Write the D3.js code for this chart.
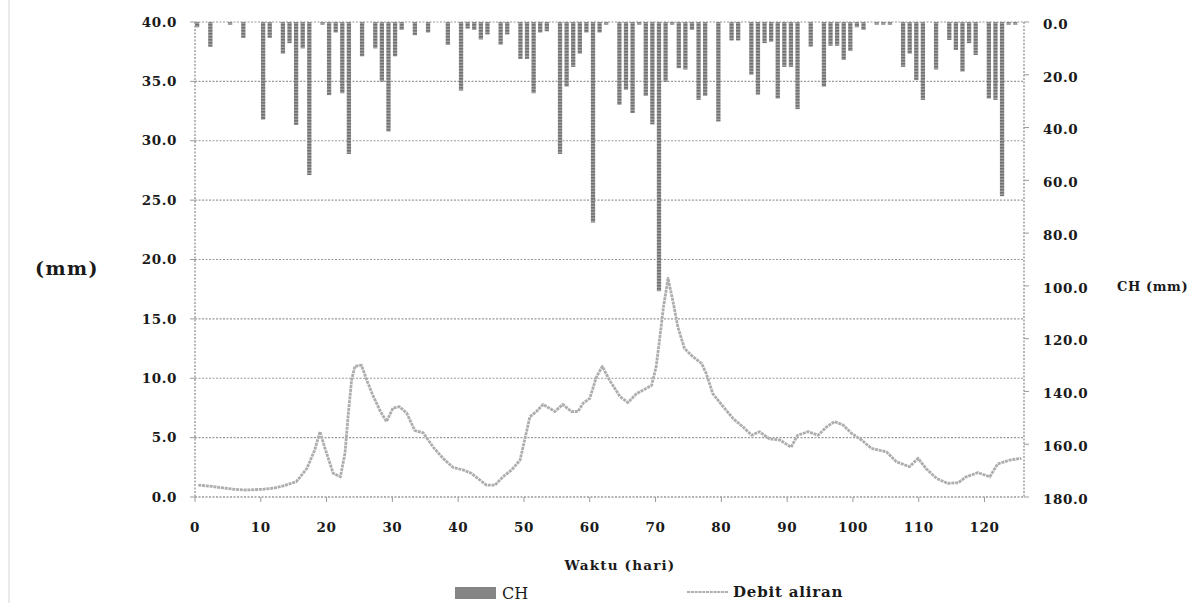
<!DOCTYPE html>
<html>
<head>
<meta charset="utf-8">
<script src="https://cdn.jsdelivr.net/npm/d3@7"></script>
<style>
  body { margin: 0; background: #fff; }
  svg text { font-family: "DejaVu Serif", "Liberation Serif", serif; font-weight: bold; fill: #1a1a1a; }
</style>
</head>
<body>
<svg id="chart" width="1204" height="603"></svg>
<script>
// daily rainfall CH (mm), day index -> value, hanging from top (right axis)
const chDays = [1, 3, 6, 8, 11, 12, 14, 15, 16, 17, 18, 20, 21, 22, 23, 24, 26, 28, 29, 30, 31, 32, 34, 36, 39, 41, 42, 43, 44, 45,
    47, 48, 50, 51, 52, 53, 54, 56, 57, 58, 59, 60, 61, 62, 63, 65, 66, 67, 68, 69, 70, 71, 72, 73, 74, 75, 76, 77, 78, 80,
    82, 83, 85, 86, 87, 88, 89, 90, 91, 92, 94, 96, 97, 98, 99, 100, 101, 102, 104, 105, 106, 108, 109, 110, 111, 113, 115, 116, 117, 118,
    119, 121, 122, 123, 124, 125];
const chValues = [2, 9.4, 1, 6, 37, 6, 12, 8, 39, 10, 58, 1, 27.7, 4, 27, 50, 13, 10, 22.6, 41.5, 13, 3, 5, 4, 8.7, 26, 2.5, 3, 6.6, 4.7,
    8.6, 4.7, 14, 14, 27, 4, 3.5, 50, 24.5, 17, 12, 4, 76, 4, 1, 31.4, 25.7, 34.5, 1, 28, 38.8, 102, 22.6, 1, 17.5, 18, 3, 29.5, 28, 37.7,
    7, 7, 20, 27.5, 8, 7.5, 29, 17, 17, 33, 9.3, 24.5, 9, 9, 14.4, 11, 2, 3, 1, 1, 1, 17, 12, 22, 29.5, 18, 6.8, 10.6, 18.8, 8,
    12.5, 29, 29.5, 66, 1, 1];

// flow (Debit aliran)
const flowDays = [0.5, 2.5, 4.3, 6, 7.8, 10.3, 12, 13.4, 15.4, 17, 18.2, 19, 19.7, 21, 22.1, 22.8, 23.3, 23.8, 24.3, 25.3, 26.1, 27, 28.1, 29.1, 30.1, 31.1,
    32.2, 33.4, 34.7, 36.2, 37.7, 39.2, 40.8, 42, 43.3, 44.3, 45.6, 46.8, 48.1, 49.4, 50.1, 50.9, 51.9, 52.9, 54.7, 55.9, 57.2, 58.2, 59, 60, 61,
    61.9, 63, 64.6, 65.8, 67.1, 68.1, 69.4, 70.1, 70.6, 71.2, 71.9, 72.6, 73.4, 74.4, 75.7, 77, 77.7, 78.7, 80.3, 81.8, 83.3, 84.6, 85.8,
    87.3, 88.9, 90.6, 91.6, 93.2, 94.7, 96, 97.2, 98.5, 99.8, 101.3, 102.8, 105.1, 106.6, 108.6, 109.9, 111.1, 112.7, 114.4, 116, 117.2,
    119, 120.8, 122, 123.8, 125.6];
const flowValues = [1.0, 0.9, 0.76, 0.65, 0.59, 0.65, 0.75, 0.93, 1.29, 2.4, 3.96, 5.5, 4.2, 2.0, 1.7, 3.7, 7.0, 9.85, 11.0, 11.1, 9.85, 8.6, 7.3, 6.35, 7.5, 7.6,
    7.05, 5.6, 5.4, 4.2, 3.26, 2.5, 2.27, 2.0, 1.43, 1.0, 1.0, 1.7, 2.27, 3.1, 4.8, 6.76, 7.2, 7.8, 7.2, 7.8, 7.2, 7.2, 7.9, 8.3, 10.1,
    11.0, 9.85, 8.45, 7.95, 8.7, 9.0, 9.4, 11.0, 13.2, 16.0, 18.4, 16.6, 14.3, 12.5, 11.8, 11.25, 10.4, 8.7, 7.6, 6.6, 5.9, 5.2, 5.5,
    4.9, 4.8, 4.2, 5.2, 5.5, 5.2, 5.9, 6.35, 6.06, 5.36, 4.8, 4.1, 3.8, 2.97, 2.55, 3.26, 2.4, 1.57, 1.15, 1.2, 1.7,
    2.05, 1.7, 2.78, 3.1, 3.26];

const leftTicks = [0, 5, 10, 15, 20, 25, 30, 35, 40];
const rightTicks = [0, 20, 40, 60, 80, 100, 120, 140, 160, 180];
const xTicks = [0, 10, 20, 30, 40, 50, 60, 70, 80, 90, 100, 110, 120];

const svg = d3.select('#chart');
const plot = {left: 195, right: 1024, top: 22, bottom: 497};

const x = d3.scaleLinear().domain([0, 126]).range([plot.left, plot.right]);
const yFlow = d3.scaleLinear().domain([0, 40]).range([plot.bottom, plot.top]);
const yCH = d3.scaleLinear().domain([0, 180]).range([plot.top, plot.bottom]);
const xBand = d3.scaleBand().domain(d3.range(1, 127)).range([plot.left, plot.right]).paddingInner(0.35);

const gridColor = '#9a9a9a';
const lineColor = '#adadad';

// bar texture: stacked small dashes like the scanned original
const defs = svg.append('defs');
const pat = defs.append('pattern')
    .attr('id', 'chTex')
    .attr('patternUnits', 'userSpaceOnUse')
    .attr('width', 4).attr('height', 3);
pat.append('rect').attr('width', 4).attr('height', 3).attr('fill', '#a0a0a0');
pat.append('rect').attr('width', 4).attr('height', 1.6).attr('fill', '#727272');

// faint page border at the left
svg.append('line')
    .attr('x1', 9).attr('x2', 9).attr('y1', 0).attr('y2', 603)
    .style('stroke', '#d4d4d4').style('stroke-width', 1);

// horizontal grid
svg.append('g').attr('class', 'grid')
    .selectAll('line').data(leftTicks.filter(d => d > 0))
    .join('line')
    .attr('x1', plot.left).attr('x2', plot.right)
    .attr('y1', d => yFlow(d)).attr('y2', d => yFlow(d))
    .style('stroke', gridColor)
    .style('stroke-width', 1.2)
    .style('stroke-dasharray', '2, 1.5');

// bars (CH)
svg.append('g').attr('class', 'bars')
    .selectAll('rect').data(chDays.map((d, i) => ({day: d, value: chValues[i]})))
    .join('rect')
    .attr('x', d => xBand(d.day))
    .attr('width', xBand.bandwidth())
    .attr('y', plot.top)
    .attr('height', d => yCH(d.value) - plot.top)
    .attr('fill', 'url(#chTex)');

// flow line
const line = d3.line()
    .x((d, i) => x(flowDays[i]))
    .y(d => yFlow(d));
svg.append('path')
    .attr('d', line(flowValues))
    .attr('fill', 'none')
    .style('stroke', lineColor)
    .style('stroke-width', 2.8)
    .style('stroke-dasharray', '3, 0.8')
    .style('stroke-linejoin', 'round');

// axes: dotted lines with small ticks
const axisStyle = sel => sel
    .style('stroke', gridColor)
    .style('stroke-width', 1.4)
    .style('stroke-dasharray', '2, 1.5');

svg.append('line').call(axisStyle)
    .attr('x1', plot.left).attr('x2', plot.right)
    .attr('y1', plot.bottom).attr('y2', plot.bottom);
svg.append('line').call(axisStyle)
    .attr('x1', plot.left).attr('x2', plot.left)
    .attr('y1', plot.top).attr('y2', plot.bottom);
svg.append('line').call(axisStyle)
    .attr('x1', plot.right).attr('x2', plot.right)
    .attr('y1', plot.top).attr('y2', plot.bottom);

const fmt = d3.format('.1f');
const tickFont = sel => sel
    .style('font-size', '13.5px')
    .style('letter-spacing', '0.6px');

// left axis
const gLeft = svg.append('g').attr('class', 'axisLeft');
gLeft.selectAll('line').data(leftTicks)
    .join('line')
    .attr('x1', plot.left - 5).attr('x2', plot.left)
    .attr('y1', d => yFlow(d)).attr('y2', d => yFlow(d))
    .style('stroke', gridColor).style('stroke-width', 1);
gLeft.selectAll('text').data(leftTicks)
    .join('text')
    .attr('x', plot.left - 18)
    .attr('y', d => yFlow(d))
    .attr('dy', '0.35em')
    .attr('text-anchor', 'end')
    .call(tickFont)
    .text(d => fmt(d));

// right axis
const gRight = svg.append('g').attr('class', 'axisRight');
gRight.selectAll('line').data(rightTicks)
    .join('line')
    .attr('x1', plot.right).attr('x2', plot.right + 5)
    .attr('y1', d => yCH(d)).attr('y2', d => yCH(d))
    .style('stroke', gridColor).style('stroke-width', 1);
gRight.selectAll('text').data(rightTicks)
    .join('text')
    .attr('x', plot.right + 19)
    .attr('y', d => yCH(d) + 2)
    .attr('dy', '0.35em')
    .attr('text-anchor', 'start')
    .call(tickFont)
    .text(d => fmt(d));

// bottom axis
const gBottom = svg.append('g').attr('class', 'axisBottom');
gBottom.selectAll('line').data(xTicks)
    .join('line')
    .attr('x1', d => x(d)).attr('x2', d => x(d))
    .attr('y1', plot.bottom).attr('y2', plot.bottom + 5)
    .style('stroke', gridColor).style('stroke-width', 1);
gBottom.selectAll('text').data(xTicks)
    .join('text')
    .attr('x', d => x(d))
    .attr('y', plot.bottom + 30)
    .attr('dy', '0.35em')
    .attr('text-anchor', 'middle')
    .call(tickFont)
    .text(d => d);

// titles
svg.append('text')
    .attr('x', 67).attr('y', 275)
    .attr('text-anchor', 'middle')
    .style('font-size', '19px')
    .style('letter-spacing', '1.5px')
    .text('(mm)');
svg.append('text')
    .attr('x', 1117).attr('y', 291)
    .style('font-size', '13px')
    .style('letter-spacing', '0.6px')
    .text('CH (mm)');
svg.append('text')
    .attr('x', 620).attr('y', 570)
    .attr('text-anchor', 'middle')
    .style('font-size', '13.5px')
    .style('letter-spacing', '1.2px')
    .text('Waktu (hari)');

// legend
const legend = svg.append('g').attr('class', 'legend');
legend.append('rect')
    .attr('x', 455).attr('y', 587).attr('width', 41).attr('height', 12)
    .attr('fill', '#858585');
legend.append('text')
    .attr('x', 502).attr('y', 599)
    .style('font-size', '16px')
    .style('font-weight', 'normal')
    .text('CH');
legend.append('line')
    .attr('x1', 687).attr('x2', 728).attr('y1', 592).attr('y2', 592)
    .style('stroke', lineColor).style('stroke-width', 2)
    .style('stroke-dasharray', '3, 0.8');
legend.append('text')
    .attr('x', 733).attr('y', 597)
    .style('font-size', '15px')
    .style('letter-spacing', '0.8px')
    .text('Debit aliran');
</script>
</body>
</html>
